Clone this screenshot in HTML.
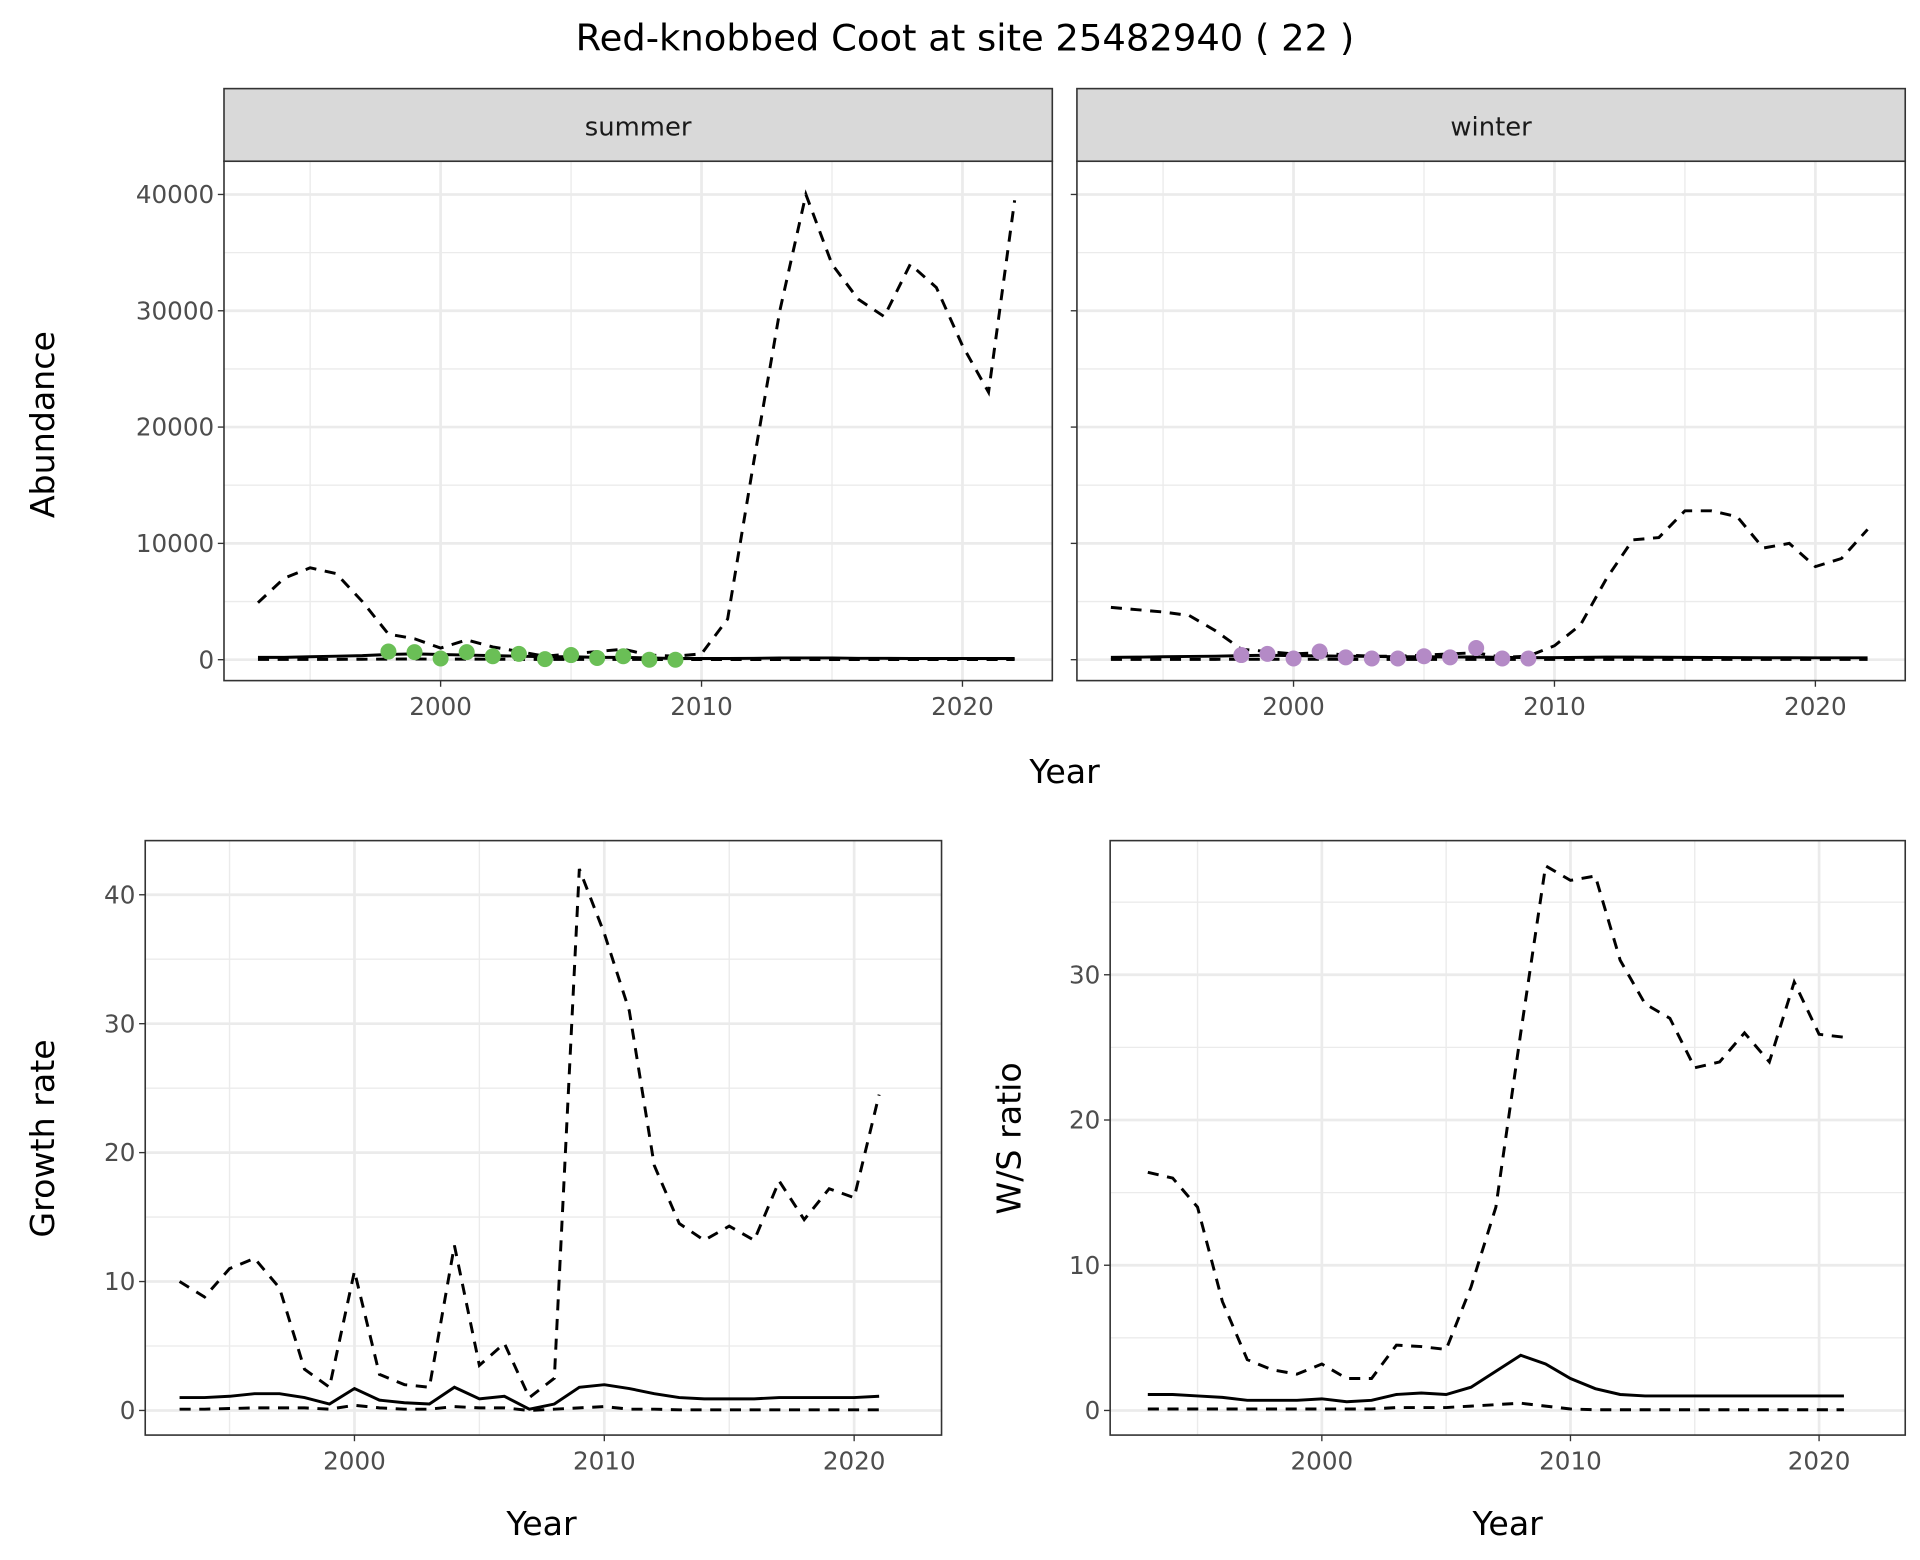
<!DOCTYPE html>
<html><head><meta charset="utf-8"><style>
html,body{margin:0;padding:0;background:#fff;}
svg{display:block;font-family:"DejaVu Sans","Liberation Sans",sans-serif;}
</style></head><body>
<svg id="fig" width="1920" height="1560" viewBox="0 0 1560 1267.5" xmlns="http://www.w3.org/2000/svg">
<text x="784" y="41" font-size="30" text-anchor="middle" fill="#000">Red-knobbed Coot at site 25482940 ( 22 )</text>
</svg>
<script>
// ---- data ----
const yearsAb = [1993,1994,1995,1996,1997,1998,1999,2000,2001,2002,2003,2004,2005,2006,2007,2008,2009,2010,2011,2012,2013,2014,2015,2016,2017,2018,2019,2020,2021,2022];
const summerUpper = [4900,7000,7900,7400,5000,2200,1800,1000,1700,1100,700,300,500,700,900,400,300,500,3500,17000,30000,40000,34000,31000,29500,34000,32000,27000,23000,39500];
const summerMean = [200,200,250,300,350,450,500,450,400,350,300,250,250,200,200,150,100,100,100,120,150,150,150,120,120,100,100,100,100,100];
const summerLower = [30,30,30,30,40,50,60,50,50,40,30,30,30,30,30,20,10,10,10,10,10,10,10,10,10,10,10,10,10,10];
const summerObsYears = [1998,1999,2000,2001,2002,2003,2004,2005,2006,2007,2008,2009];
const summerObs = [700,650,100,650,300,500,50,400,150,300,0,0];
const winterUpper = [4500,4300,4100,3800,2500,900,700,500,600,400,300,300,400,500,600,200,300,1200,3000,7000,10300,10500,12800,12800,12300,9600,10000,8000,8700,11200];
const winterMean = [200,220,250,280,300,350,380,350,330,300,280,250,250,230,230,200,180,180,200,220,220,210,200,190,180,170,170,160,160,160];
const winterLower = [30,30,30,30,30,40,40,40,40,30,30,30,30,30,30,20,20,20,20,20,20,20,20,20,20,20,20,20,20,20];
const winterObsYears = [1998,1999,2000,2001,2002,2003,2004,2005,2006,2007,2008,2009];
const winterObs = [400,500,100,700,200,100,100,300,200,1000,100,100];
const yearsGr = [1993,1994,1995,1996,1997,1998,1999,2000,2001,2002,2003,2004,2005,2006,2007,2008,2009,2010,2011,2012,2013,2014,2015,2016,2017,2018,2019,2020,2021];
const growthUpper = [10,8.8,11,11.8,9.5,3.2,1.8,10.8,2.8,2.0,1.8,12.8,3.5,5.2,1.0,2.5,42,37,31,19,14.5,13.2,14.3,13.2,17.8,14.8,17.2,16.5,24.5];
const growthMean = [1.0,1.0,1.1,1.3,1.3,1.0,0.5,1.7,0.8,0.6,0.5,1.8,0.9,1.1,0.1,0.5,1.8,2.0,1.7,1.3,1.0,0.9,0.9,0.9,1.0,1.0,1.0,1.0,1.1];
const growthLower = [0.1,0.1,0.15,0.2,0.2,0.2,0.1,0.4,0.2,0.1,0.1,0.3,0.2,0.2,0.0,0.1,0.2,0.3,0.1,0.1,0.05,0.05,0.05,0.05,0.05,0.05,0.05,0.05,0.05];
const wsUpper = [16.4,16,14,7.5,3.5,2.8,2.5,3.2,2.2,2.2,4.5,4.4,4.2,8.5,14,26,37.5,36.5,36.8,31,28,27,23.6,24,26,24,29.5,25.9,25.7];
const wsMean = [1.1,1.1,1.0,0.9,0.7,0.7,0.7,0.8,0.6,0.7,1.1,1.2,1.1,1.6,2.7,3.8,3.2,2.2,1.5,1.1,1.0,1.0,1.0,1.0,1.0,1.0,1.0,1.0,1.0];
const wsLower = [0.1,0.1,0.1,0.1,0.1,0.1,0.1,0.1,0.1,0.1,0.2,0.2,0.2,0.3,0.4,0.5,0.3,0.1,0.05,0.05,0.05,0.05,0.05,0.05,0.05,0.05,0.05,0.05,0.05];
const abTicks = [0,10000,20000,30000,40000];
const abMinor = [5000,15000,25000,35000];
const yearTicks = [2000,2010,2020];
const yearMinor = [1995,2005,2015];
const grTicks = [0,10,20,30,40];
const grMinor = [5,15,25,35];
const wsTicks = [0,10,20,30];
const wsMinor = [5,15,25,35];

const NS="http://www.w3.org/2000/svg";
const svg=document.getElementById('fig');
function el(tag,attrs,parent){const e=document.createElementNS(NS,tag);for(const k in attrs)e.setAttribute(k,attrs[k]);(parent||svg).appendChild(e);return e;}
function lin(d0,d1,r0,r1){return v=>r0+(v-d0)/(d1-d0)*(r1-r0);}

function panel(name,box,xs,ys,yT,yMin,showYLabels){
  const g=el('g',{});
  
  
  el('rect',{x:box.x0,y:box.y0,width:box.x1-box.x0,height:box.y1-box.y0,fill:'#fff'},g);
  yMin.forEach(v=>{const l=el('line',{x1:box.x0,x2:box.x1,y1:ys(v),y2:ys(v),stroke:'#ebebeb','stroke-width':1.1},g);});
  yearMinor.forEach(v=>{const l=el('line',{y1:box.y0,y2:box.y1,x1:xs(v),x2:xs(v),stroke:'#ebebeb','stroke-width':1.1},g);});
  yT.forEach(v=>{const l=el('line',{x1:box.x0,x2:box.x1,y1:ys(v),y2:ys(v),stroke:'#ebebeb','stroke-width':2.2},g);
    el('line',{x1:box.x0-5,x2:box.x0,y1:ys(v),y2:ys(v),stroke:'#333','stroke-width':1.1},g);
    if(showYLabels){const t=el('text',{x:box.x0-8,y:ys(v)+7,'font-size':20,'text-anchor':'end',fill:'#4d4d4d'},g);t.textContent=v;}
  });
  yearTicks.forEach(v=>{const l=el('line',{y1:box.y0,y2:box.y1,x1:xs(v),x2:xs(v),stroke:'#ebebeb','stroke-width':2.2},g);
    el('line',{y1:box.y1,y2:box.y1+5,x1:xs(v),x2:xs(v),stroke:'#333','stroke-width':1.1},g);
    const t=el('text',{x:xs(v),y:box.y1+28,'font-size':20,'text-anchor':'middle',fill:'#4d4d4d'},g);t.textContent=v;
  });
  return g;
}
function line(g,name,xsArr,vals,xs,ys,dashed){
  const p=el('path',{d:vals.map((v,i)=>(i?'L':'M')+xs(xsArr[i]).toFixed(2)+','+ys(v).toFixed(2)).join(''),fill:'none',stroke:'#000','stroke-width':2.4,'stroke-dasharray':dashed?'9,7':'none'},g);
  
  
}
function border(g,box){el('rect',{x:box.x0,y:box.y0,width:box.x1-box.x0,height:box.y1-box.y0,fill:'none',stroke:'#333','stroke-width':1.3},g);}
function txt(name,x,y,s,size,rot){const t=el('text',{x:x,y:y,'font-size':size,'text-anchor':'middle',fill:'#000'});if(rot)t.setAttribute('transform','rotate(-90 '+x+' '+y+')');t.textContent=s;}

// top panels
const topY=lin(0,40000,536,158);
[['summer',182,855,summerUpper,summerMean,summerLower,summerObsYears,summerObs,'#6abf56',true],
 ['winter',875,1548,winterUpper,winterMean,winterLower,winterObsYears,winterObs,'#b48ac6',false]].forEach(c=>{
  const box={x0:c[1],x1:c[2],y0:131,y1:553};
  const xs=lin(2000,2010,c[1]+176,c[1]+388);
  const g=panel(c[0],box,xs,topY,abTicks,abMinor,c[9]);
  line(g,c[0]+'-upper-line',yearsAb,c[3],xs,topY,true);
  line(g,c[0]+'-lower-line',yearsAb,c[5],xs,topY,true);
  line(g,c[0]+'-mean-line',yearsAb,c[4],xs,topY,false);
  c[6].forEach((yr,i)=>{const d=el('circle',{cx:xs(yr),cy:topY(c[7][i]),r:6.5,fill:c[8]},g);});
  border(g,box);
  const s=el('rect',{x:c[1],y:72,width:c[2]-c[1],height:59,fill:'#d9d9d9',stroke:'#333','stroke-width':1.3},g);
  
  const t=el('text',{x:(c[1]+c[2])/2,y:110,'font-size':21,'text-anchor':'middle',fill:'#1a1a1a'},g);t.textContent=c[0];
  
});
txt('top-x-axis-title',865,636,'Year',27);
txt('abundance-y-axis-title',44,345,'Abundance',27,true);

// growth rate
(function(){
  const box={x0:118,x1:765,y0:683,y1:1166};
  const xs=lin(2000,2010,288,491), ys=lin(0,40,1146,727);
  const g=panel('growth-rate',box,xs,ys,grTicks,grMinor,true);
  line(g,'growth-upper-line',yearsGr,growthUpper,xs,ys,true);
  line(g,'growth-lower-line',yearsGr,growthLower,xs,ys,true);
  line(g,'growth-mean-line',yearsGr,growthMean,xs,ys,false);
  border(g,box);
  txt('growth-x-axis-title',440,1247,'Year',27);
  txt('growth-y-axis-title',44,925,'Growth rate',27,true);
})();
// W/S ratio
(function(){
  const box={x0:902,x1:1548,y0:683,y1:1166};
  const xs=lin(2000,2010,1074,1276), ys=lin(0,30,1146,792);
  const g=panel('ws-ratio',box,xs,ys,wsTicks,wsMinor,true);
  line(g,'ws-upper-line',yearsGr,wsUpper,xs,ys,true);
  line(g,'ws-lower-line',yearsGr,wsLower,xs,ys,true);
  line(g,'ws-mean-line',yearsGr,wsMean,xs,ys,false);
  border(g,box);
  txt('ws-x-axis-title',1225,1247,'Year',27);
  txt('ws-y-axis-title',829,925,'W/S ratio',27,true);
})();
</script>
</body></html>
